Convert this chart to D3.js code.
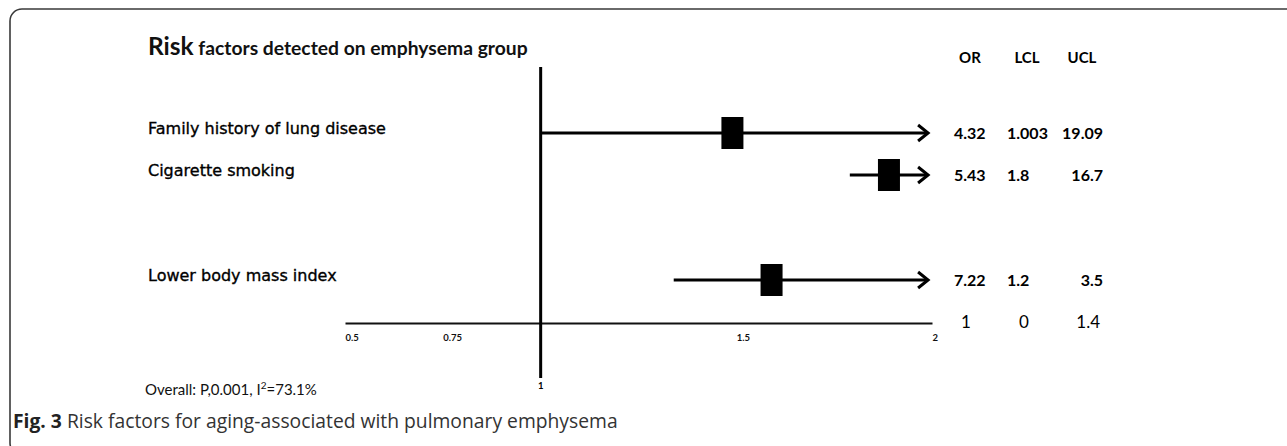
<!DOCTYPE html>
<html>
<head>
<meta charset="utf-8">
<script src="https://cdn.jsdelivr.net/npm/d3@7"></script>
<style>
  body { margin: 0; background: #fff; }
  svg { display: block; }
</style>
</head>
<body>
<svg id="forest" width="1287" height="446"></svg>
<script>
// rows of the forest plot
var factors = ['Family history of lung disease', 'Cigarette smoking', 'Lower body mass index'];
var rowSlot = [0, 1, 3.5];
// positions as drawn on the axis (arrows = CI runs off the scale)
var plotOR = [1.49, 1.89, 1.59];
var plotLow = [1.0, 1.79, 1.34];
var plotHigh = [1.99, 1.99, 1.99];
// printed table
var colHeads = ['OR', 'LCL', 'UCL'];
var orText = ['4.32', '5.43', '7.22'];
var lclText = ['1.003', '1.8', '1.2'];
var uclText = ['19.09', '16.7', '3.5'];
var refRow = ['1', '0', '1.4'];
var tickVals = [0.5, 0.75, 1.5, 2];

var svg = d3.select('#forest');

// frame
svg.append('rect')
  .attr('x', 10).attr('y', 9)
  .attr('width', 1300).attr('height', 446)
  .attr('rx', 12)
  .attr('fill', 'none')
  .attr('stroke', '#3a3a3a')
  .attr('stroke-width', 1.6);

var x = d3.scaleLinear().domain([0.5, 2]).range([345, 932]);
var y = d3.scaleLinear().domain([0, 1]).range([133, 175]);
var axisY = 323;

var labelFont = '"DejaVu Sans", sans-serif';
var tableFont = 'Lato, "Open Sans", sans-serif';

// title
var title = svg.append('text')
  .attr('x', 148).attr('y', 55)
  .attr('font-family', tableFont)
  .attr('font-weight', 700)
  .attr('fill', '#111');
title.append('tspan').attr('font-size', 24.5).text('Risk');
title.append('tspan').attr('font-size', 19.3).text(' factors detected on emphysema group');

// axis
var axis = svg.append('g')
  .attr('transform', 'translate(0,' + axisY + ')')
  .call(d3.axisBottom(x).tickValues(tickVals).tickSize(0).tickSizeOuter(0).tickFormat(d3.format('')));
axis.select('.domain').attr('stroke', '#111').attr('stroke-width', 2);
axis.selectAll('text')
  .attr('text-anchor', 'start')
  .attr('dy', 0)
  .attr('y', 18)
  .attr('font-family', tableFont)
  .attr('font-weight', 700)
  .attr('font-size', 9.5)
  .attr('fill', '#111');

// line of no effect
svg.append('line')
  .attr('x1', x(1)).attr('x2', x(1))
  .attr('y1', 67).attr('y2', 378)
  .attr('stroke', '#000').attr('stroke-width', 3);
svg.append('text')
  .attr('x', x(1)).attr('y', 389)
  .attr('text-anchor', 'middle')
  .attr('font-family', tableFont)
  .attr('font-weight', 700)
  .attr('font-size', 9.5)
  .text('1');

// row labels
svg.selectAll('.factor')
  .data(factors)
  .join('text')
  .attr('class', 'factor')
  .attr('x', 148)
  .attr('y', (d, i) => y(rowSlot[i]))
  .attr('dy', '0.05em')
  .attr('font-family', labelFont)
  .attr('font-size', 16)
  .attr('fill', '#000')
  .attr('stroke', '#000')
  .attr('stroke-width', 0.35)
  .text(d => d);

// CI lines with arrows
var rows = svg.selectAll('.row')
  .data(factors)
  .join('g')
  .attr('class', 'row');

rows.append('line')
  .attr('x1', (d, i) => x(plotLow[i]))
  .attr('x2', (d, i) => x(plotHigh[i]))
  .attr('y1', (d, i) => y(rowSlot[i]))
  .attr('y2', (d, i) => y(rowSlot[i]))
  .attr('stroke', '#000').attr('stroke-width', 3);

rows.append('path')
  .attr('d', (d, i) => {
    var ax = x(plotHigh[i]), ay = y(rowSlot[i]);
    return 'M' + (ax - 10) + ',' + (ay - 8) + 'L' + ax + ',' + ay + 'L' + (ax - 10) + ',' + (ay + 8);
  })
  .attr('fill', 'none')
  .attr('stroke', '#000').attr('stroke-width', 3);

rows.append('rect')
  .attr('x', (d, i) => x(plotOR[i]) - 11)
  .attr('y', (d, i) => y(rowSlot[i]) - 16)
  .attr('width', 22).attr('height', 32)
  .attr('fill', '#000');

// table
var colX = [970, 1027, 1082];
svg.selectAll('.head')
  .data(colHeads)
  .join('text')
  .attr('class', 'head')
  .attr('x', (d, i) => colX[i])
  .attr('y', 63)
  .attr('text-anchor', 'middle')
  .attr('font-family', tableFont)
  .attr('font-weight', 700)
  .attr('font-size', 15)
  .text(d => d);

function tableCol(vals, xx, anchor) {
  svg.append('g').selectAll('text')
    .data(vals)
    .join('text')
    .attr('x', xx)
    .attr('y', (d, i) => y(rowSlot[i]))
    .attr('dy', '0.35em')
    .attr('text-anchor', anchor)
    .attr('font-family', tableFont)
    .attr('font-weight', 700)
    .attr('font-size', 16)
    .text(d => d);
}
tableCol(orText, 954, 'start');
tableCol(lclText, 1007, 'start');
tableCol(uclText, 1103, 'end');

svg.append('g').selectAll('text')
  .data(refRow)
  .join('text')
  .attr('x', (d, i) => [966, 1024, 1100][i])
  .attr('y', axisY - 1)
  .attr('dy', '0.35em')
  .attr('text-anchor', (d, i) => i < 2 ? 'middle' : 'end')
  .attr('font-family', tableFont)
  .attr('font-size', 17)
  .text(d => d);

// heterogeneity note
var note = svg.append('text')
  .attr('x', 145).attr('y', 395)
  .attr('font-family', tableFont)
  .attr('font-size', 15)
  .attr('fill', '#111');
note.append('tspan').text('Overall: P,0.001, I');
note.append('tspan').attr('font-size', 10).attr('dy', -6).text('2');
note.append('tspan').attr('dy', 6).text('=73.1%');

// caption
var cap = svg.append('text')
  .attr('x', 13).attr('y', 428)
  .attr('font-family', '"Open Sans", sans-serif')
  .attr('font-size', 19.3);
cap.append('tspan').attr('font-weight', 700).attr('fill', '#222').text('Fig. 3');
cap.append('tspan').attr('fill', '#333').text(' Risk factors for aging-associated with pulmonary emphysema');
</script>
</body>
</html>
